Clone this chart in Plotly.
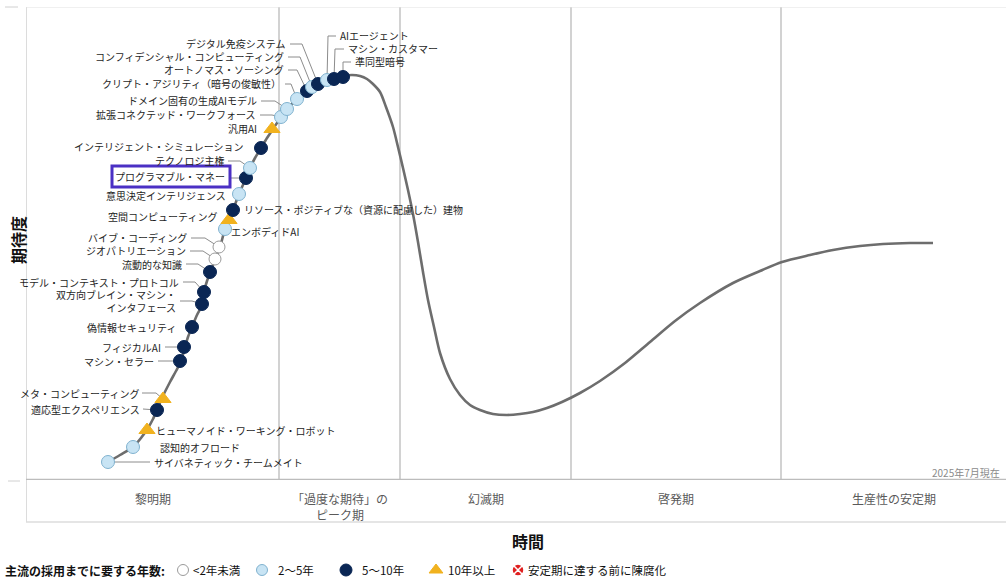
import plotly.graph_objects as go

# ---------------- data ----------------
# hype-cycle curve (time, expectations)
curve_t = [108, 120, 133, 141, 148, 153, 157, 162, 170, 176, 181, 185, 188, 192, 197, 203, 204, 207,
           211, 215, 220, 225, 229, 233, 239, 246, 250, 255, 261, 267, 273, 281, 287, 297, 307, 312,
           318, 327, 334, 343, 352, 360, 367, 373, 380, 386, 393, 398, 403, 408, 413, 418, 423, 428,
           434, 440, 450, 460, 470, 480, 493, 507, 520, 533, 547, 562, 580, 600, 625, 650, 675, 700,
           733, 760, 782, 810, 833, 860, 883, 910, 933]
curve_e = [18, 25, 33, 42, 52, 61, 70, 82, 98, 109, 119, 133, 143, 153, 165, 177, 188, 199,
           209, 221, 233, 251, 260, 270, 286, 302, 312, 322, 332, 342, 351, 363, 371, 381, 389, 393,
           396, 400, 402, 404, 405, 404, 401, 396, 388, 373, 353, 333, 312, 290, 266, 238, 208, 180,
           153, 127, 101, 85, 75, 70, 66, 65, 66, 68, 72, 78, 87, 99, 117, 138, 159, 177,
           197, 209, 218, 225, 230, 234, 236, 237, 237]

tech_names = [
    "サイバネティック・チームメイト", "認知的オフロード", "ヒューマノイド・ワーキング・ロボット",
    "適応型エクスペリエンス", "メタ・コンピューティング", "マシン・セラー", "フィジカルAI",
    "偽情報セキュリティ", "双方向ブレイン・マシン・<br>インタフェース", "モデル・コンテキスト・プロトコル",
    "流動的な知識", "ジオパトリエーション", "バイブ・コーディング", "エンボディドAI",
    "空間コンピューティング", "リソース・ポジティブな（資源に配慮した）建物", "意思決定インテリジェンス",
    "プログラマブル・マネー", "テクノロジ主権", "インテリジェント・シミュレーション", "汎用AI",
    "拡張コネクテッド・ワークフォース", "ドメイン固有の生成AIモデル", "クリプト・アジリティ（暗号の俊敏性）",
    "オートノマス・ソーシング", "コンフィデンシャル・コンピューティング", "デジタル免疫システム",
    "AIエージェント", "マシン・カスタマー", "準同型暗号",
]
tech_t = [108, 133, 147, 157, 163, 180, 184, 192, 202, 204, 210, 215, 219, 225, 229, 233, 239,
          246, 250, 261, 272, 281, 287, 297, 307, 312, 318, 327, 334, 343]
tech_e = [18, 33, 50, 70, 81, 119, 133, 153, 176, 188, 208, 221, 233, 251, 260, 270, 286,
          302, 312, 332, 351, 363, 371, 381, 389, 393, 396, 400, 401, 403]
tech_years = ["2-5", "2-5", "10+", "5-10", "10+", "5-10", "5-10", "5-10", "5-10", "5-10",
              "5-10", "lt2", "lt2", "2-5", "10+", "5-10", "2-5", "5-10", "2-5", "5-10",
              "10+", "2-5", "2-5", "2-5", "5-10", "2-5", "5-10", "2-5", "5-10", "5-10"]

phase_names = ["黎明期", "「過度な期待」の<br>ピーク期", "幻滅期", "啓発期", "生産性の安定期"]
phase_bounds = [26, 279, 400, 571, 781, 1006]

legend_title = "主流の採用までに要する年数:"
legend_keys = ["lt2", "2-5", "5-10", "10+", "obs"]
legend_labels = ["&lt;2年未満", "2〜5年", "5〜10年", "10年以上", "安定期に達する前に陳腐化"]

# ---------------- layout helpers (positions / styles) ----------------
# label placement: (anchor x, y, side) ; side 'l' = text left of point, 'r' = right
label_pos = [
    (153, 18, 'r'), (159, 33, 'r'), (155, 50, 'r'), (141, 71, 'l'), (140, 87, 'l'),
    (155, 119, 'l'), (162, 133, 'l'), (177, 153, 'l'), (177, 179, 'l'), (180, 198, 'l'),
    (183, 216, 'l'), (187, 229, 'l'), (188, 242, 'l'), (230, 248, 'r'), (218, 263, 'l'),
    (243, 270, 'r'), (227, 284, 'l'), (226, 303, 'l'), (225, 319, 'l'), (245, 333, 'l'),
    (258, 351, 'l'), (257, 365, 'l'), (258, 379, 'l'), (282, 396, 'l'), (285, 410, 'l'),
    (285, 423, 'l'), (287, 436, 'l'), (339, 444, 'r'), (347, 431, 'r'), (354, 418, 'r'),
]
# leader polylines (extra points from marker toward label)
leaders = {
    0: [(150, 18)], 3: [(143, 71)], 4: [(156, 87), (142, 87)], 5: [(158, 119)],
    6: [(165, 133)], 8: [(192, 179), (180, 179)], 9: [(195, 198), (183, 198)],
    10: [(198, 216), (186, 216)], 11: [(203, 229), (190, 229)], 12: [(205, 242), (191, 242)],
    17: [(230, 302)], 18: [(240, 319), (228, 319)], 21: [(272, 365), (260, 365)],
    22: [(275, 379), (261, 379)], 23: [(291, 396), (285, 396)], 24: [(297, 410), (288, 410)],
    25: [(300, 423), (288, 423)], 26: [(302, 436), (290, 436)],
    27: [(328, 444), (336, 444)], 28: [(335, 431), (344, 431)], 29: [(343, 418), (351, 418)],
}

STYLE = {
    "lt2": dict(symbol="circle", color="#ffffff", line="#9b9b9b", size=12),
    "2-5": dict(symbol="circle", color="#c8e4f4", line="#80b2cf", size=13),
    "5-10": dict(symbol="circle", color="#0a2654", line="#0a2654", size=13),
    "10+": dict(symbol="triangle-up", color="#f1b21f", line="#f1b21f", size=14),
    "obs": dict(symbol="circle-x", color="#e02020", line="#ffffff", size=13),
}

FONT = "Noto Sans CJK JP"
H, W = 578, 1006
PLOT_TOP, PLOT_BOT, BAND_BOT = 7, 480, 522


def py(p):  # pixel row -> paper y
    return (H - p) / H


fig = go.Figure()

# leader lines
lx, ly = [], []
for i, pts in leaders.items():
    lx += [tech_t[i]] + [p[0] for p in pts] + [None]
    ly += [tech_e[i]] + [p[1] for p in pts] + [None]
fig.add_trace(go.Scatter(x=lx, y=ly, mode="lines", line=dict(color="#8c8c8c", width=1),
                         hoverinfo="skip", showlegend=False, cliponaxis=False))

# curve
fig.add_trace(go.Scatter(x=curve_t, y=curve_e, mode="lines",
                         line=dict(color="#6d6d6d", width=2.6, shape="spline", smoothing=0.8),
                         hoverinfo="skip", showlegend=False, cliponaxis=False))

# technology markers
fig.add_trace(go.Scatter(
    x=tech_t, y=tech_e, mode="markers", text=tech_names, hoverinfo="text", showlegend=False,
    cliponaxis=False,
    marker=dict(symbol=[STYLE[k]["symbol"] for k in tech_years],
                color=[STYLE[k]["color"] for k in tech_years],
                size=[STYLE[k]["size"] for k in tech_years], opacity=1,
                line=dict(color=[STYLE[k]["line"] for k in tech_years], width=1)),
))

annotations = []
for name, (x, y, side) in zip(tech_names, label_pos):
    annotations.append(dict(x=x, y=y, xref="x", yref="y", text=name, showarrow=False,
                            xanchor="right" if side == "l" else "left", yanchor="middle",
                            align="right" if side == "l" else "left",
                            font=dict(family=FONT, size=10, color="#1e1e1e"), borderpad=0))

# phase labels
for i, name in enumerate(phase_names):
    cx = (phase_bounds[i] + phase_bounds[i + 1]) / 2
    annotations.append(dict(x=cx, y=py(488), xref="x", yref="paper", text=name, showarrow=False,
                            xanchor="center", yanchor="top",
                            font=dict(family=FONT, size=12, color="#5a5a5a")))

annotations += [
    dict(x=528 / W, y=py(541), xref="paper", yref="paper", text="<b>時間</b>", showarrow=False,
         font=dict(family=FONT, size=16, color="#111"), xanchor="center", yanchor="middle"),
    dict(x=18 / W, y=py(240), xref="paper", yref="paper", text="<b>期待度</b>", showarrow=False,
         textangle=-90, font=dict(family=FONT, size=16, color="#111"), xanchor="center",
         yanchor="middle"),
    dict(x=1002 / W, y=py(472), xref="paper", yref="paper", text="2025年7月現在", showarrow=False,
         font=dict(family=FONT, size=10, color="#8a8a8a"), xanchor="right", yanchor="middle"),
]

# legend row (own axis pair)
leg_marker_x = [183, 262, 346, 436, 518]
leg_text_x = [191, 276, 360, 446, 526]
fig.add_trace(go.Scatter(
    x=leg_marker_x, y=[0.5] * 5, xaxis="x2", yaxis="y2", mode="markers", hoverinfo="skip",
    showlegend=False, cliponaxis=False,
    marker=dict(symbol=[STYLE[k]["symbol"] for k in legend_keys],
                color=[STYLE[k]["color"] for k in legend_keys],
                size=[11, 11, 12, 12, 12], opacity=1,
                line=dict(color=[STYLE[k]["line"] for k in legend_keys], width=[1, 1, 1, 1, 1.5])),
))
annotations.append(dict(x=3, y=0.5, xref="x2", yref="y2", text=f"<b>{legend_title}</b>",
                        showarrow=False, xanchor="left", yanchor="middle",
                        font=dict(family=FONT, size=12, color="#111")))
for tx, lab in zip(leg_text_x, legend_labels):
    annotations.append(dict(x=tx, y=0.5, xref="x2", yref="y2", text=lab, showarrow=False,
                            xanchor="left", yanchor="middle",
                            font=dict(family=FONT, size=11.5, color="#111")))

shapes = []
# phase dividers
for b in phase_bounds[1:-1]:
    shapes.append(dict(type="line", xref="x", yref="y", x0=b, x1=b, y0=0, y1=PLOT_BOT - PLOT_TOP,
                       line=dict(color="#d2d2d2", width=2), layer="below"))
# frame
shapes += [
    dict(type="line", xref="x", yref="y", x0=26, x1=1006, y0=0, y1=0,
         line=dict(color="#bcbcbc", width=2.5), layer="below"),
    dict(type="line", xref="x", yref="y", x0=26, x1=1006, y0=PLOT_BOT - PLOT_TOP, y1=PLOT_BOT - PLOT_TOP,
         line=dict(color="#e2e2e2", width=1), layer="below"),
    dict(type="line", xref="paper", yref="paper", x0=26.5 / W, x1=26.5 / W, y0=py(BAND_BOT), y1=py(PLOT_TOP),
         line=dict(color="#dcdcdc", width=1), layer="below"),
    dict(type="line", xref="paper", yref="paper", x0=26 / W, x1=1, y0=py(BAND_BOT), y1=py(BAND_BOT),
         line=dict(color="#dcdcdc", width=1.5), layer="below"),
    dict(type="line", xref="paper", yref="paper", x0=5 / W, x1=18 / W, y0=py(PLOT_TOP), y1=py(PLOT_TOP),
         line=dict(color="#d0d0d0", width=1), layer="below"),
    dict(type="line", xref="paper", yref="paper", x0=8 / W, x1=20 / W, y0=py(481), y1=py(481),
         line=dict(color="#d0d0d0", width=1), layer="below"),
    # highlight box around one label
    dict(type="rect", xref="x", yref="y", x0=112, x1=230, y0=293, y1=314,
         line=dict(color="#4b30c4", width=3), fillcolor="rgba(0,0,0,0)"),
]

fig.update_layout(
    width=W, height=H, margin=dict(l=0, r=0, t=0, b=0),
    paper_bgcolor="white", plot_bgcolor="white",
    xaxis=dict(domain=[26 / W, 1], range=[26, 1006], visible=False, fixedrange=True),
    yaxis=dict(domain=[py(PLOT_BOT), py(PLOT_TOP)], range=[0, PLOT_BOT - PLOT_TOP], visible=False,
               fixedrange=True),
    xaxis2=dict(domain=[0, 1], range=[0, W], visible=False, anchor="y2", fixedrange=True),
    yaxis2=dict(domain=[0, 16 / H], range=[0, 1], visible=False, anchor="x2", fixedrange=True),
    annotations=annotations, shapes=shapes, showlegend=False,
    font=dict(family=FONT),
)

fig.write_html("out.html")
